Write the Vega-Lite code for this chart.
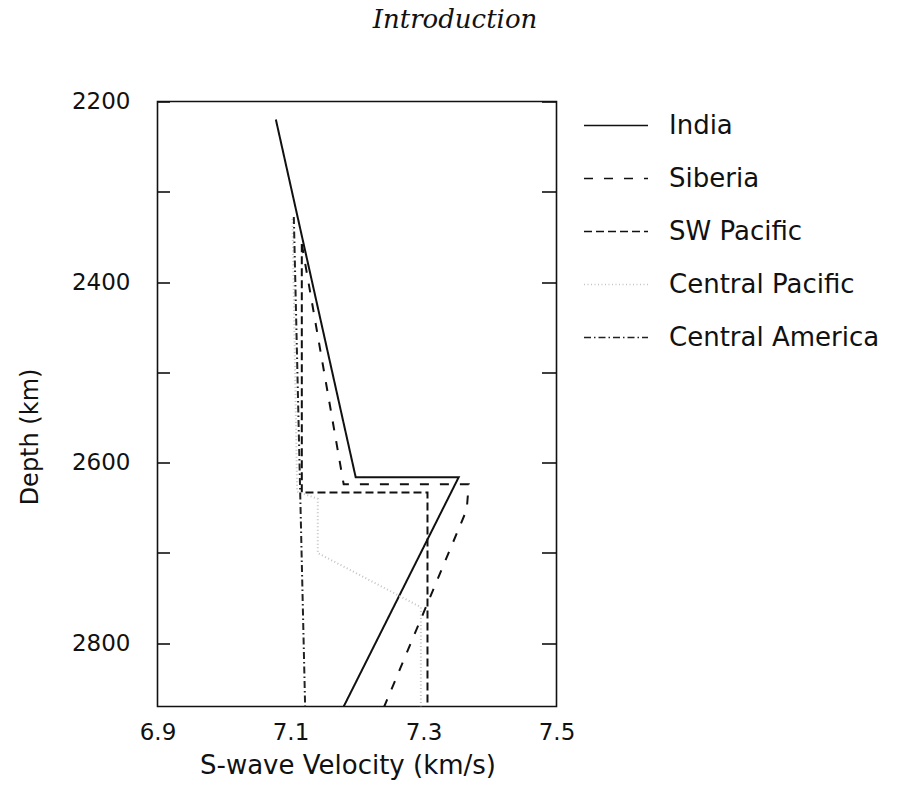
{
  "$schema": "https://vega.github.io/schema/vega-lite/v6.json",
  "autosize": {"type": "none"},
  "width": 399,
  "height": 605,
  "padding": {"left": 157.5, "top": 101.5, "right": 352.5, "bottom": 84.5},
  "background": "white",
  "title": {
    "text": "Introduction",
    "font": "DejaVu Serif",
    "fontStyle": "italic",
    "fontWeight": "normal",
    "fontSize": 26,
    "color": "#111",
    "anchor": "middle",
    "frame": "group",
    "dx": 98,
    "offset": 58
  },
  "config": {
    "view": {"stroke": "#111", "strokeWidth": 1.6},
    "font": "DejaVu Sans"
  },
  "data": {
    "values": [
      {"region": "India", "i": 0, "v": 7.078, "d": 2220},
      {"region": "India", "i": 1, "v": 7.198, "d": 2616},
      {"region": "India", "i": 2, "v": 7.353, "d": 2616},
      {"region": "India", "i": 3, "v": 7.180, "d": 2870},

      {"region": "Siberia", "i": 0, "v": 7.117, "d": 2358},
      {"region": "Siberia", "i": 1, "v": 7.180, "d": 2624},
      {"region": "Siberia", "i": 2, "v": 7.368, "d": 2624},
      {"region": "Siberia", "i": 3, "v": 7.365, "d": 2652},
      {"region": "Siberia", "i": 4, "v": 7.241, "d": 2870},

      {"region": "SW Pacific", "i": 0, "v": 7.117, "d": 2358},
      {"region": "SW Pacific", "i": 1, "v": 7.117, "d": 2633},
      {"region": "SW Pacific", "i": 2, "v": 7.306, "d": 2633},
      {"region": "SW Pacific", "i": 3, "v": 7.306, "d": 2870},

      {"region": "Central Pacific", "i": 0, "v": 7.103, "d": 2330},
      {"region": "Central Pacific", "i": 1, "v": 7.110, "d": 2632},
      {"region": "Central Pacific", "i": 2, "v": 7.141, "d": 2640},
      {"region": "Central Pacific", "i": 3, "v": 7.141, "d": 2700},
      {"region": "Central Pacific", "i": 4, "v": 7.296, "d": 2760},
      {"region": "Central Pacific", "i": 5, "v": 7.296, "d": 2870},

      {"region": "Central America", "i": 0, "v": 7.105, "d": 2328},
      {"region": "Central America", "i": 1, "v": 7.122, "d": 2870}
    ]
  },
  "encoding": {
    "x": {
      "field": "v",
      "type": "quantitative",
      "scale": {"domain": [6.9, 7.5], "nice": false, "zero": false},
      "axis": {
        "values": [6.9, 7.1, 7.3, 7.5],
        "format": ".1f",
        "ticks": false,
        "domain": false,
        "grid": false,
        "labelFlush": false,
        "labelFontSize": 23,
        "labelColor": "#111",
        "labelPadding": 15,
        "title": "S-wave Velocity (km/s)",
        "titleFontSize": 26,
        "titleFontWeight": "normal",
        "titleColor": "#111",
        "titleX": 190,
        "titleY": 67,
        "titleAlign": "center",
        "titleBaseline": "alphabetic"
      }
    }
  },
  "layer": [
    {
      "mark": {"type": "line", "strokeWidth": 2, "clip": true},
      "encoding": {
        "y": {
          "field": "d",
          "type": "quantitative",
          "scale": {"domain": [2200, 2870], "reverse": true, "nice": false, "zero": false},
          "axis": {
            "orient": "left",
            "values": [2200, 2300, 2400, 2500, 2600, 2700, 2800],
            "labelExpr": "datum.value % 200 === 0 ? datum.label : ''",
            "format": "d",
            "tickSize": -12,
            "tickWidth": 1.6,
            "tickColor": "#111",
            "domain": false,
            "grid": false,
            "labelFontSize": 23,
            "labelColor": "#111",
            "labelPadding": 39.5,
            "title": "Depth (km)",
            "titleFontSize": 24,
            "titleFontWeight": "normal",
            "titleColor": "#111",
            "titleAngle": 270,
            "titleX": -127,
            "titleY": 335,
            "titleAlign": "center",
            "titleBaseline": "middle"
          }
        },
        "strokeDash": {
          "field": "region",
          "type": "nominal",
          "scale": {
            "domain": ["India", "Siberia", "SW Pacific", "Central Pacific", "Central America"],
            "range": [[1, 0], [9, 11], [8, 4], [1, 2.5], [7, 3, 1.5, 3]]
          },
          "legend": {
            "orient": "none",
            "legendX": 425.5,
            "legendY": -9,
            "title": null,
            "padding": 0,
            "symbolType": "stroke",
            "symbolSize": 4096,
            "symbolStrokeWidth": 1.6,
            "labelFontSize": 26,
            "labelColor": "#111",
            "labelOffset": 20,
            "labelLimit": 400,
            "rowPadding": 7
          }
        },
        "color": {
          "field": "region",
          "type": "nominal",
          "scale": {
            "domain": ["India", "Siberia", "SW Pacific", "Central Pacific", "Central America"],
            "range": ["#111111", "#111111", "#111111", "#c4c4c4", "#222222"]
          },
          "legend": {
            "orient": "none",
            "legendX": 425.5,
            "legendY": -9,
            "title": null,
            "padding": 0,
            "symbolType": "stroke",
            "symbolSize": 4096,
            "symbolStrokeWidth": 1.6,
            "labelFontSize": 26,
            "labelColor": "#111",
            "labelOffset": 20,
            "labelLimit": 400,
            "rowPadding": 7
          }
        },
        "order": {"field": "i"}
      }
    },
    {
      "mark": {"type": "line", "opacity": 0},
      "encoding": {
        "y": {
          "field": "d",
          "type": "quantitative",
          "axis": {
            "orient": "right",
            "values": [2200, 2300, 2400, 2500, 2600, 2700, 2800],
            "labels": false,
            "tickSize": -15,
            "tickWidth": 1.6,
            "tickColor": "#111",
            "domain": false,
            "grid": false,
            "title": null
          }
        },
        "detail": {"field": "region"},
        "order": {"field": "i"}
      }
    }
  ],
  "resolve": {"axis": {"y": "independent"}}
}
